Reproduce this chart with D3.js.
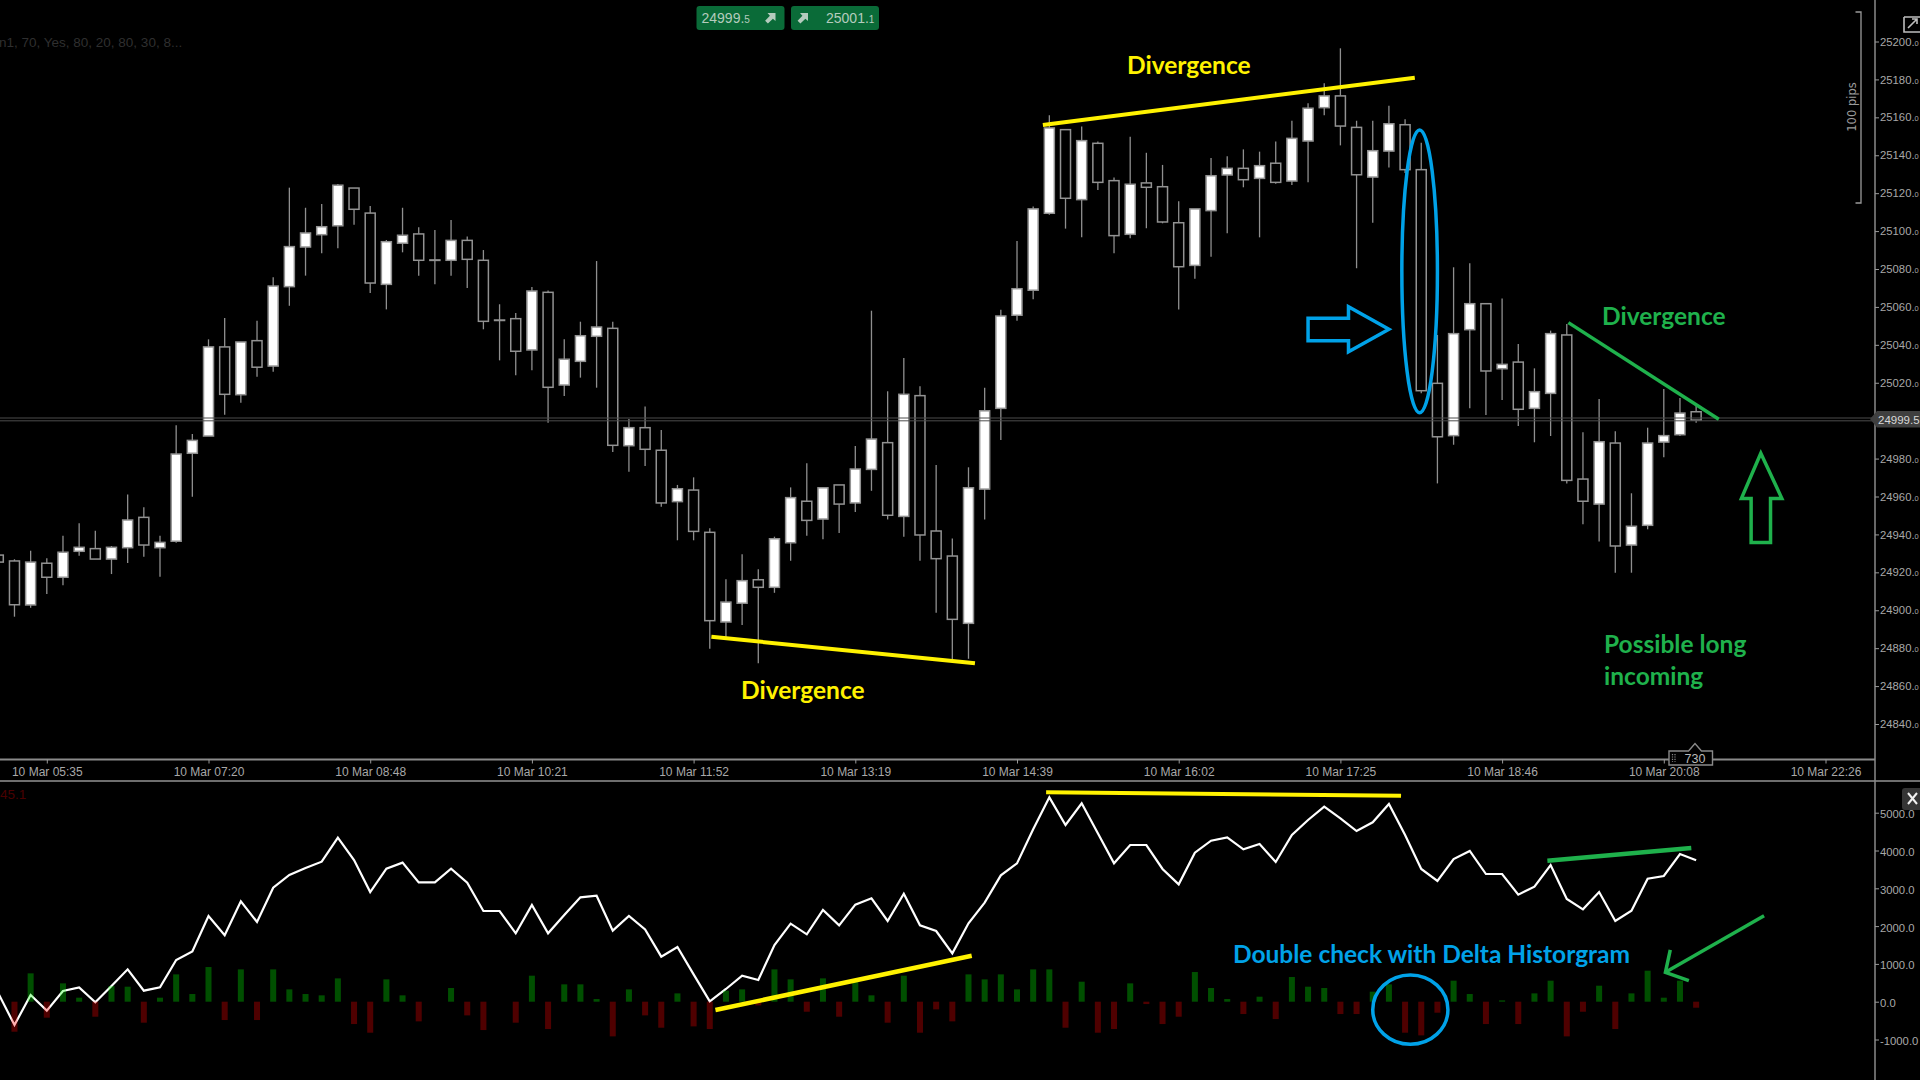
<!DOCTYPE html>
<html>
<head>
<meta charset="utf-8">
<script src="https://cdn.jsdelivr.net/npm/d3@7"></script>
<style>
  html, body { margin: 0; padding: 0; background: #000; overflow: hidden; }
  svg { display: block; }
  .axis text { fill: #a8a8a8; font-family: 'Liberation Sans', Arial, sans-serif; font-size: 12px; }
  .axis.side text { font-size: 11.3px; }
  .axis line { stroke: #999; }
  .note { font-family: Lato, sans-serif; font-weight: 700; font-size: 24.5px; }
</style>
</head>
<body>
<svg></svg>
<script>
const opens = [24929.1,24926.0,24902.8,24924.8,24917.4,24931.1,24932.5,24927.0,24933.0,24949.0,24933.0,24936.4,24982.8,24991.9,25038.9,25013.7,25042.2,25028.8,25070.7,25091.6,25098.1,25102.8,25122.7,25109.5,25071.9,25093.6,25098.5,25084.8,25084.6,25095.1,25084.6,25053.1,25053.8,25037.3,25067.7,25018.8,25031.3,25044.5,25048.7,24986.8,24996.3,24984.4,24957.3,24963.4,24941.1,24893.8,24903.7,24916.1,24912.1,24935.6,24957.5,24948.1,24966.1,24956.6,24974.3,24988.4,24949.5,25013.2,24941.8,24928.6,24893.1,24963.9,25006.5,25055.6,25068.8,25109.4,25153.5,25116.6,25146.3,25126.6,25098.3,25125.4,25123.4,25104.4,25081.9,25110.8,25129.6,25133.1,25127.8,25135.8,25126.4,25147.5,25165.1,25171.3,25154.7,25128.5,25142.2,25156.1,25132.4,25019.7,24992.1,25048.0,25061.7,25027.4,25030.9,25006.5,25014.4,25045.2,24969.2,24956.0,24988.2,24934.4,24944.8,24988.7,24992.6,25004.7];
const closes = [24925.4,24902.9,24925.4,24917.4,24930.6,24933.2,24927.0,24933.2,24947.6,24934.4,24935.8,24982.4,24989.6,25038.9,25013.9,25041.5,25028.2,25071.0,25091.8,25099.0,25102.3,25124.2,25111.5,25072.6,25094.4,25097.8,25084.6,25084.8,25095.1,25085.1,25052.4,25053.1,25036.6,25068.4,25017.6,25032.4,25044.8,25049.4,24987.0,24996.3,24984.9,24956.6,24964.1,24941.6,24894.5,24904.3,24915.6,24912.1,24937.7,24959.4,24947.4,24964.6,24956.0,24974.5,24990.3,24950.1,25013.9,24939.7,24927.2,24895.2,24964.6,25005.2,25055.2,25069.6,25111.7,25154.4,25117.3,25147.7,25125.7,25097.6,25124.7,25123.1,25104.8,25081.2,25111.7,25129.2,25133.1,25127.1,25134.5,25125.7,25148.9,25164.8,25171.3,25155.4,25129.7,25142.4,25156.6,25132.4,25015.8,24991.5,25045.9,25061.7,25026.2,25029.7,25006.0,25015.3,25045.9,24968.5,24957.5,24988.9,24933.9,24944.3,24988.2,24992.1,25004.0,25000.3];
const highs = [24930.2,24926.9,24931.4,24927.4,24939.3,24945.9,24941.9,24933.9,24961.0,24954.3,24939.3,24997.6,24993.0,25042.9,25054.2,25041.5,25052.7,25075.6,25122.9,25112.3,25114.3,25124.8,25122.7,25113.2,25095.3,25112.3,25102.0,25100.6,25105.9,25097.2,25090.0,25061.4,25056.8,25070.5,25068.6,25042.9,25052.2,25084.2,25052.2,25000.9,25007.5,24995.1,24966.1,24970.1,24943.2,24916.3,24929.5,24921.6,24938.8,24964.8,24977.5,24964.6,24966.1,24986.6,25058.0,25015.5,25033.1,25018.1,24976.6,24937.9,24975.4,25017.4,25058.5,25094.8,25113.0,25161.1,25153.5,25155.1,25147.2,25128.2,25149.8,25141.3,25134.9,25115.7,25111.7,25138.6,25139.5,25143.1,25141.9,25147.2,25158.2,25167.4,25178.0,25196.4,25158.2,25158.2,25166.1,25159.0,25146.6,25045.2,25080.9,25083.0,25061.7,25064.5,25040.4,25027.6,25047.5,25051.0,24993.9,25011.4,24994.4,24961.7,24996.3,25016.7,25012.0,25008.1];
const lows = [24922.3,24896.6,24901.3,24908.6,24913.2,24928.8,24927.0,24919.1,24924.9,24928.2,24917.7,24935.6,24959.9,24991.9,25003.1,25009.5,25023.2,25025.8,25060.6,25076.5,25088.3,25090.9,25103.4,25067.3,25058.7,25088.8,25076.5,25071.9,25076.5,25070.0,25048.2,25031.8,25023.9,25026.6,24998.9,25013.0,25022.7,25017.4,24983.5,24973.1,24976.1,24954.6,24936.9,24936.9,24879.7,24884.3,24892.2,24872.0,24909.2,24926.1,24939.3,24937.4,24940.7,24951.8,24963.0,24947.9,24938.8,24926.1,24898.7,24873.7,24874.4,24947.9,24989.8,25052.7,25064.0,25108.6,25101.3,25096.7,25121.7,25088.3,25096.2,25101.5,25104.1,25058.7,25074.9,25086.5,25098.8,25123.1,25096.7,25125.0,25124.3,25125.7,25161.1,25145.2,25080.4,25104.4,25133.6,25130.6,25014.4,24966.9,24987.3,25006.5,25003.0,25010.9,24997.2,24988.6,24991.9,24966.9,24945.3,24936.2,24919.8,24919.8,24942.7,24980.7,24991.9,24998.9];

const deltaLine = [222,-616,177,-237,283,380,-17,415,856,292,380,1103,1332,2267,1756,2655,2108,3017,3352,3537,3705,4340,3749,2902,3519,3678,3158,3158,3519,3149,2399,2399,1809,2558,1809,2294,2761,2805,1879,2267,1914,1191,1447,724,10,336,689,574,1500,2064,1782,2426,2020,2567,2735,2135,2858,2020,1870,1280,2073,2620,3343,3660,4560,5406,4675,5248,4454,3660,4145,4145,3511,3105,3943,4260,4348,4031,4172,3696,4410,4807,5160,4851,4516,4745,5230,4410,3511,3193,3775,3987,3378,3378,2832,3043,3616,2717,2444,2902,2135,2408,3255,3325,3907,3740];
const deltaBars = [0,-794,750,-423,485,106,-397,414,397,-555,106,723,203,917,-485,855,-485,855,326,203,168,617,-591,-820,591,168,-520,0,362,-362,-750,0,-555,688,-723,459,459,70,-917,326,-362,-688,220,-653,-723,291,326,-97,855,591,-265,617,-397,529,168,-555,688,-820,-203,-520,723,591,723,326,855,855,-688,529,-820,-723,485,-62,-591,-397,785,362,70,-326,132,-459,653,397,362,-326,-326,265,459,-820,-891,-291,556,203,-591,35,-591,220,556,-917,-265,423,-723,220,820,106,556,-159];

const priceTicks = [25200,25180,25160,25140,25120,25100,25080,25060,25040,25020,24980,24960,24940,24920,24900,24880,24860,24840];
const deltaTicks = [5000,4000,3000,2000,1000,0,-1000];
const timeTicks = [3,13,23,33,43,53,63,73,83,93,103,113];
const timeLabels = ['10 Mar 05:35','10 Mar 07:20','10 Mar 08:48','10 Mar 10:21','10 Mar 11:52','10 Mar 13:19','10 Mar 14:39','10 Mar 16:02','10 Mar 17:25','10 Mar 18:46','10 Mar 20:08','10 Mar 22:26'];
const lastPrice = 24999.5;

// hand drawn notes, [candle index, value]
const yellowTop = [[64.6,25156],[87.6,25180.9]];
const yellowBottom = [[44.1,24886],[60.4,24872]];
const greenTop = [[97.1,25051.7],[106.4,25000.7]];
const upArrow = [[109,24982.8],[107.8,24959],[108.4,24959],[108.4,24935.8],[109.6,24935.8],[109.6,24959],[110.3,24959]];
const blueArrow = [[81,25054],[83.5,25054],[83.5,25060.1],[86,25048.2],[83.5,25036.4],[83.5,25042.2],[81,25042.2]];
const blueEllipse = [[86.8,25153.3],[89,25004.2]];
const deltaYellowLow = [[44.35,-220],[60.2,1217]];
const deltaYellowTop = [[64.8,5540],[86.75,5450]];
const deltaGreen = [[95.8,3730],[104.7,4066]];
const deltaArrow = [[109.2,2275],[103.1,778]];
const deltaArrowHead = [[103.4,1368],[103.1,778],[104.55,556]];
const deltaCircle = [[85,706],[89.65,-1127]];

const width = 1920;
const height = 1080;
const axisX = 1875;
const priceBottom = 759.5;
const paneTop = 781;

const yellow = '#fff200';
const green = '#1fb14c';
const blue = '#00a2e8';

const svg = d3.select('svg').attr('width', width).attr('height', height);

const xScale = d3.scaleLinear().domain([0, 113]).range([-1.7, 1825.5]);
const yPrice = d3.scaleLinear().domain([24840, 25200]).range([724, 41.5]);
const yDelta = d3.scaleLinear().domain([-1000, 5000]).range([1039.5, 812.7]);

const priceLine = d3.line().x((d) => xScale(d[0])).y((d) => yPrice(d[1]));
const deltaPath = d3.line().x((d) => xScale(d[0])).y((d) => yDelta(d[1]));

const createCandles = () => {
  const candles = svg
    .append('g')
    .selectAll('g')
    .data(opens.map((o, i) => i))
    .enter()
    .append('g');

  candles
    .append('line')
    .attr('x1', (i) => xScale(i))
    .attr('x2', (i) => xScale(i))
    .attr('y1', (i) => yPrice(highs[i]))
    .attr('y2', (i) => yPrice(lows[i]))
    .attr('stroke', '#8f8f8f')
    .attr('stroke-width', 1.3);

  candles
    .append('rect')
    .attr('x', (i) => xScale(i) - 5)
    .attr('width', 10)
    .attr('y', (i) => yPrice(Math.max(opens[i], closes[i])))
    .attr('height', (i) => Math.max(0.5, Math.abs(yPrice(opens[i]) - yPrice(closes[i]))))
    .attr('fill', (i) => (closes[i] > opens[i] ? '#fff' : '#000'))
    .attr('stroke', '#929292')
    .attr('stroke-width', 1.5);
};

const createDelta = () => {
  svg
    .append('path')
    .attr('d', d3.line().x((d, i) => xScale(i)).y((d) => yDelta(d))(deltaLine))
    .attr('fill', 'none')
    .attr('stroke', '#fff')
    .attr('stroke-width', 2.2);

  svg
    .append('g')
    .selectAll('rect')
    .data(deltaBars)
    .enter()
    .append('rect')
    .attr('x', (d, i) => xScale(i) - 3)
    .attr('width', 6)
    .attr('y', (d) => yDelta(Math.max(d, 0)))
    .attr('height', (d) => Math.abs(yDelta(d) - yDelta(0)))
    .attr('fill', (d) => (d > 0 ? '#00ff00' : '#ff0000'))
    .attr('opacity', 0.31);
};

const createFrame = () => {
  const frame = svg.append('g').attr('stroke', '#8a8a8a').attr('stroke-width', 2);
  frame.append('line').attr('x1', 0).attr('x2', axisX).attr('y1', priceBottom).attr('y2', priceBottom);
  frame.append('line').attr('x1', 0).attr('x2', width).attr('y1', paneTop).attr('y2', paneTop).attr('stroke', '#6e6e6e');
  frame.append('line').attr('x1', axisX).attr('x2', axisX).attr('y1', 0).attr('y2', height).attr('stroke-width', 1.5);

  // last price double line, it sits a touch above the price scale in the terminal
  [-3.6, -0.8].forEach((off) => {
    svg
      .append('line')
      .attr('x1', 0)
      .attr('x2', axisX)
      .attr('y1', yPrice(lastPrice) + off)
      .attr('y2', yPrice(lastPrice) + off)
      .attr('stroke', '#4c4c4c')
      .attr('stroke-width', 1);
  });
};

const createAxes = () => {
  const priceAxis = d3.axisRight(yPrice).tickValues(priceTicks).tickSize(4).tickPadding(1);
  const priceG = svg
    .append('g')
    .attr('class', 'axis side')
    .attr('transform', 'translate(' + axisX + ', 0)')
    .call(priceAxis);
  priceG.select('.domain').remove();
  priceG.selectAll('text').each(function (d) {
    const t = d3.select(this).text(d + '.');
    t.append('tspan').attr('font-size', '7.5px').text('0');
  });

  const deltaAxis = d3
    .axisRight(yDelta)
    .tickValues(deltaTicks)
    .tickSize(4)
    .tickPadding(1)
    .tickFormat((d) => d.toFixed(1));
  const deltaG = svg
    .append('g')
    .attr('class', 'axis side')
    .attr('transform', 'translate(' + axisX + ', 0)')
    .call(deltaAxis);
  deltaG.select('.domain').remove();
  deltaG.selectAll('text').attr('dy', '0.45em');

  const timeAxis = d3
    .axisBottom(xScale)
    .tickValues(timeTicks)
    .tickSize(4)
    .tickPadding(5)
    .tickFormat((d, i) => timeLabels[i]);
  const timeG = svg
    .append('g')
    .attr('class', 'axis')
    .attr('transform', 'translate(0, ' + priceBottom + ')')
    .call(timeAxis);
  timeG.select('.domain').remove();
  timeG.selectAll('text').attr('dy', '0.6em');
};

const createWidgets = () => {
  // top quote buttons
  const quote = (x, value, small, arrowX) => {
    svg.append('rect').attr('x', x).attr('y', 6).attr('width', 88).attr('height', 24).attr('rx', 3).attr('fill', '#0a6b38');
    const t = svg
      .append('text')
      .attr('x', value)
      .attr('y', 23)
      .attr('fill', '#b4cbbd')
      .attr('font-family', 'Liberation Sans, sans-serif')
      .attr('font-size', '14px')
      .text(small[0]);
    t.append('tspan').attr('font-size', '10px').text(small[1]);
    svg
      .append('path')
      .attr('transform', 'translate(' + arrowX + ', 18)')
      .attr('d', 'M-3 -5 H5 V3 L2.4 0.8 L-2.6 5.6 L-5.4 2.8 L-0.6 -2.2 Z')
      .attr('fill', '#b4cbbd');
  };
  quote(696.5, 701.5, ['24999.', '5'], 770.5);
  quote(791, 826, ['25001.', '1'], 803);

  // faded indicator captions
  svg
    .append('text')
    .attr('x', -1)
    .attr('y', 47)
    .attr('fill', '#2f2f2f')
    .attr('font-family', 'Liberation Sans, sans-serif')
    .attr('font-size', '13.5px')
    .text('n1, 70, Yes, 80, 20, 80, 30, 8...');
  svg
    .append('text')
    .attr('x', 0)
    .attr('y', 799)
    .attr('fill', '#4a0000')
    .attr('font-family', 'Liberation Sans, sans-serif')
    .attr('font-size', '13.5px')
    .text('45.1');

  // 100 pips ruler
  svg
    .append('path')
    .attr('d', 'M1855.5 12 H1861 V203 H1855.5')
    .attr('fill', 'none')
    .attr('stroke', '#9a9a9a')
    .attr('stroke-width', 1.3);
  svg
    .append('text')
    .attr('transform', 'translate(1856, 107) rotate(-90)')
    .attr('text-anchor', 'middle')
    .attr('fill', '#9a9a9a')
    .attr('font-family', 'DejaVu Sans, sans-serif')
    .attr('font-size', '11.5px')
    .text('100 pips');

  // last price tag
  svg
    .append('path')
    .attr('d', 'M1870 419 L1877 411 H1920 V427.5 H1877 Z')
    .attr('fill', '#3f3f3f');
  svg
    .append('text')
    .attr('x', 1878)
    .attr('y', 423.5)
    .attr('fill', '#d8d8d8')
    .attr('font-family', 'Liberation Sans, sans-serif')
    .attr('font-size', '11.5px')
    .text('24999.5');

  // expand icon, top right
  svg
    .append('path')
    .attr('d', 'M1904 17 H1920 M1904 17 V32 H1920 M1908 28 L1917 19 M1912 19 H1917 V24')
    .attr('fill', 'none')
    .attr('stroke', '#bdbdbd')
    .attr('stroke-width', 1.6);

  // close button on the lower pane
  svg.append('rect').attr('x', 1902).attr('y', 788).attr('width', 22).attr('height', 22).attr('rx', 3).attr('fill', '#353535');
  svg
    .append('path')
    .attr('d', 'M1908 793 L1917 804 M1917 793 L1908 804')
    .attr('stroke', '#f0f0f0')
    .attr('stroke-width', 2);

  // 730 countdown box
  svg
    .append('path')
    .attr('d', 'M1669 751 H1688.5 L1695 743.5 L1701.5 751 H1712.5 V765 H1669 Z')
    .attr('fill', '#000')
    .attr('stroke', '#8a8a8a')
    .attr('stroke-width', 1.4);
  svg
    .append('text')
    .attr('x', 1695)
    .attr('y', 763)
    .attr('text-anchor', 'middle')
    .attr('fill', '#b8b8b8')
    .attr('font-family', 'Liberation Sans, sans-serif')
    .attr('font-size', '12.5px')
    .text('730');
  svg
    .append('path')
    .attr('d', 'M1672.5 754 V762 M1675 754 V762')
    .attr('stroke', '#8a8a8a')
    .attr('stroke-width', 1.2)
    .attr('stroke-dasharray', '1.2 1.2');
};

const createNotes = () => {
  const stroke = (sel, color, w) =>
    sel.attr('fill', 'none').attr('stroke', color).attr('stroke-width', w);

  stroke(svg.append('path').attr('d', priceLine(yellowTop)), yellow, 4);
  stroke(svg.append('path').attr('d', priceLine(yellowBottom)), yellow, 4);
  stroke(svg.append('path').attr('d', priceLine(greenTop)), green, 3.5);
  stroke(svg.append('path').attr('d', priceLine(upArrow) + 'Z'), green, 3.5);
  stroke(svg.append('path').attr('d', priceLine(blueArrow) + 'Z'), blue, 3.5);

  const ellipseFrom = (box, yScale) =>
    svg
      .append('ellipse')
      .attr('cx', (xScale(box[0][0]) + xScale(box[1][0])) / 2)
      .attr('cy', (yScale(box[0][1]) + yScale(box[1][1])) / 2)
      .attr('rx', (xScale(box[1][0]) - xScale(box[0][0])) / 2)
      .attr('ry', (yScale(box[1][1]) - yScale(box[0][1])) / 2);

  stroke(ellipseFrom(blueEllipse, yPrice), blue, 3.5);
  stroke(ellipseFrom(deltaCircle, yDelta), blue, 3.5);

  stroke(svg.append('path').attr('d', deltaPath(deltaYellowLow)), yellow, 4.5);
  stroke(svg.append('path').attr('d', deltaPath(deltaYellowTop)), yellow, 4);
  stroke(svg.append('path').attr('d', deltaPath(deltaGreen)), green, 4.5);
  stroke(svg.append('path').attr('d', deltaPath(deltaArrow)), green, 3.5);
  stroke(svg.append('path').attr('d', deltaPath(deltaArrowHead)), green, 3.5);

  const note = (x, y, color, text) =>
    svg.append('text').attr('class', 'note').attr('x', x).attr('y', y).attr('fill', color).text(text);

  note(1127, 74, yellow, 'Divergence');
  note(741, 699, yellow, 'Divergence');
  note(1602, 325, green, 'Divergence');
  note(1604, 653, green, 'Possible long');
  note(1604, 685, green, 'incoming');
  note(1233, 963, blue, 'Double check with Delta Historgram');
};

createCandles();
createDelta();
createFrame();
createAxes();
createWidgets();
createNotes();
</script>
</body>
</html>
